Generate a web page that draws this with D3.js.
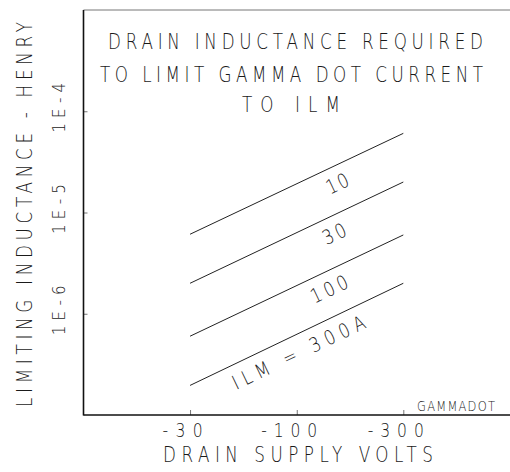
<!DOCTYPE html>
<html>
<head>
<meta charset="utf-8">
<script src="https://cdn.jsdelivr.net/npm/d3@7"></script>
<style>
  html, body { margin: 0; padding: 0; background: #fff; }
  svg { display: block; }
  text { font-family: "DejaVu Sans", sans-serif; font-weight: 200; fill: #1a1a1a; }
</style>
</head>
<body>
<svg id="chart" width="510" height="472"></svg>
<script>
// ---- data ----
const titleLines = ["DRAIN INDUCTANCE REQUIRED", "TO LIMIT GAMMA DOT CURRENT", "TO ILM"];
const xAxisTitle = "DRAIN SUPPLY VOLTS";
const yAxisTitle = "LIMITING INDUCTANCE - HENRY";
const footnote = "GAMMADOT";

const xTickValues = [31.6, 100, 316];
const xTickLabels = ["-30", "-100", "-300"];
const yTickValues = [1e-4, 1e-5, 1e-6];
const yTickLabels = ["1E-4", "1E-5", "1E-6"];

const volts = [31.6, 316];                  // drain supply volts (magnitude)
const seriesNames = ["10", "30", "100", "ILM = 300A"];
const seriesStart = [6.1e-6, 2.0e-6, 6.0e-7, 1.96e-7];   // inductance at 30 V
const seriesEnd   = [6.05e-5, 2.0e-5, 6.0e-6, 2.0e-6];   // inductance at 300 V
const labelVolts  = [155, 150, 142, 102];

// ---- layout ----
const svg = d3.select("#chart");
const mLeft = 83.5, mRight = 510, mTop = 10, mBottom = 415;
const SX = 0.82; // horizontal condensation of the stroke-like lettering

const x = d3.scaleLog().domain([10, 1000]).range([mLeft, mRight]);
const y = d3.scaleLog().domain([1e-7, 1e-3]).range([mBottom, mTop]);

function addText(txt, cx, cy, len, size, rot, sx) {
  const s = sx || SX;
  const g = svg.append("g")
    .attr("transform", `translate(${cx},${cy}) rotate(${rot || 0}) scale(${s},1)`);
  g.append("text")
    .attr("text-anchor", "middle")
    .attr("font-size", size)
    .attr("textLength", len / s)
    .attr("lengthAdjust", "spacing")
    .text(txt);
  return g;
}

// frame
svg.append("line").attr("x1", mLeft).attr("x2", mRight).attr("y1", mTop).attr("y2", mTop)
  .attr("stroke", "#777").attr("stroke-width", 1);

// axes ticks
svg.append("g").attr("transform", `translate(0,${mBottom})`)
  .call(d3.axisBottom(x).tickValues(xTickValues).tickSize(-5).tickFormat(""))
  .call(g => g.select(".domain").remove())
  .call(g => g.selectAll(".tick line").attr("stroke", "#777"));
svg.append("g").attr("transform", `translate(${mLeft},0)`)
  .call(d3.axisLeft(y).tickValues(yTickValues).tickSize(-4).tickFormat(""))
  .call(g => g.select(".domain").remove())
  .call(g => g.selectAll(".tick line").attr("stroke", "#777"));

svg.append("line").attr("x1", mLeft).attr("x2", mLeft).attr("y1", mTop).attr("y2", mBottom + 0.5)
  .attr("stroke", "#111").attr("stroke-width", 1.6);
svg.append("line").attr("x1", mLeft).attr("x2", mRight).attr("y1", mBottom).attr("y2", mBottom)
  .attr("stroke", "#111").attr("stroke-width", 1.6);

// series lines
const line = d3.line().x(d => x(d[0])).y(d => y(d[1]));
const labelLens = [23, 24, 39, 145];
seriesNames.forEach((name, i) => {
  const pts = [[volts[0], seriesStart[i]], [volts[1], seriesEnd[i]]];
  svg.append("path").attr("d", line(pts)).attr("fill", "none")
    .attr("stroke", "#222").attr("stroke-width", 1);
  const ang = Math.atan2(y(seriesEnd[i]) - y(seriesStart[i]), x(volts[1]) - x(volts[0])) * 180 / Math.PI;
  const t = Math.log(labelVolts[i] / volts[0]) / Math.log(volts[1] / volts[0]);
  const ly = Math.exp(Math.log(seriesStart[i]) + t * (Math.log(seriesEnd[i]) - Math.log(seriesStart[i])));
  addText(name, x(labelVolts[i]), y(ly) + 19, labelLens[i], 20, ang).select("text").attr("dy", 7);
});

// titles
addText(titleLines[0], 295.5, 48.5, 375, 20.5);
addText(titleLines[1], 291.5, 81.5, 383, 20.5);
addText(titleLines[2], 291, 111.5, 98, 20.5);

// x tick labels
xTickLabels.forEach((lab, i) => {
  addText(lab, x(xTickValues[i]) - 7.5, 437, i === 0 ? 40 : 56, 19);
});
// y tick labels
yTickLabels.forEach((lab, i) => {
  addText(lab, 65, y(yTickValues[i]) - 3.5, 50, 18.5, -90);
});

// axis titles
addText(xAxisTitle, 298, 462, 270, 20.5);
addText(yAxisTitle, 32, 214.5, 385, 20.5, -90);

// footnote
addText(footnote, 456, 410.5, 78, 13.5, 0, 0.85);
</script>
</body>
</html>
